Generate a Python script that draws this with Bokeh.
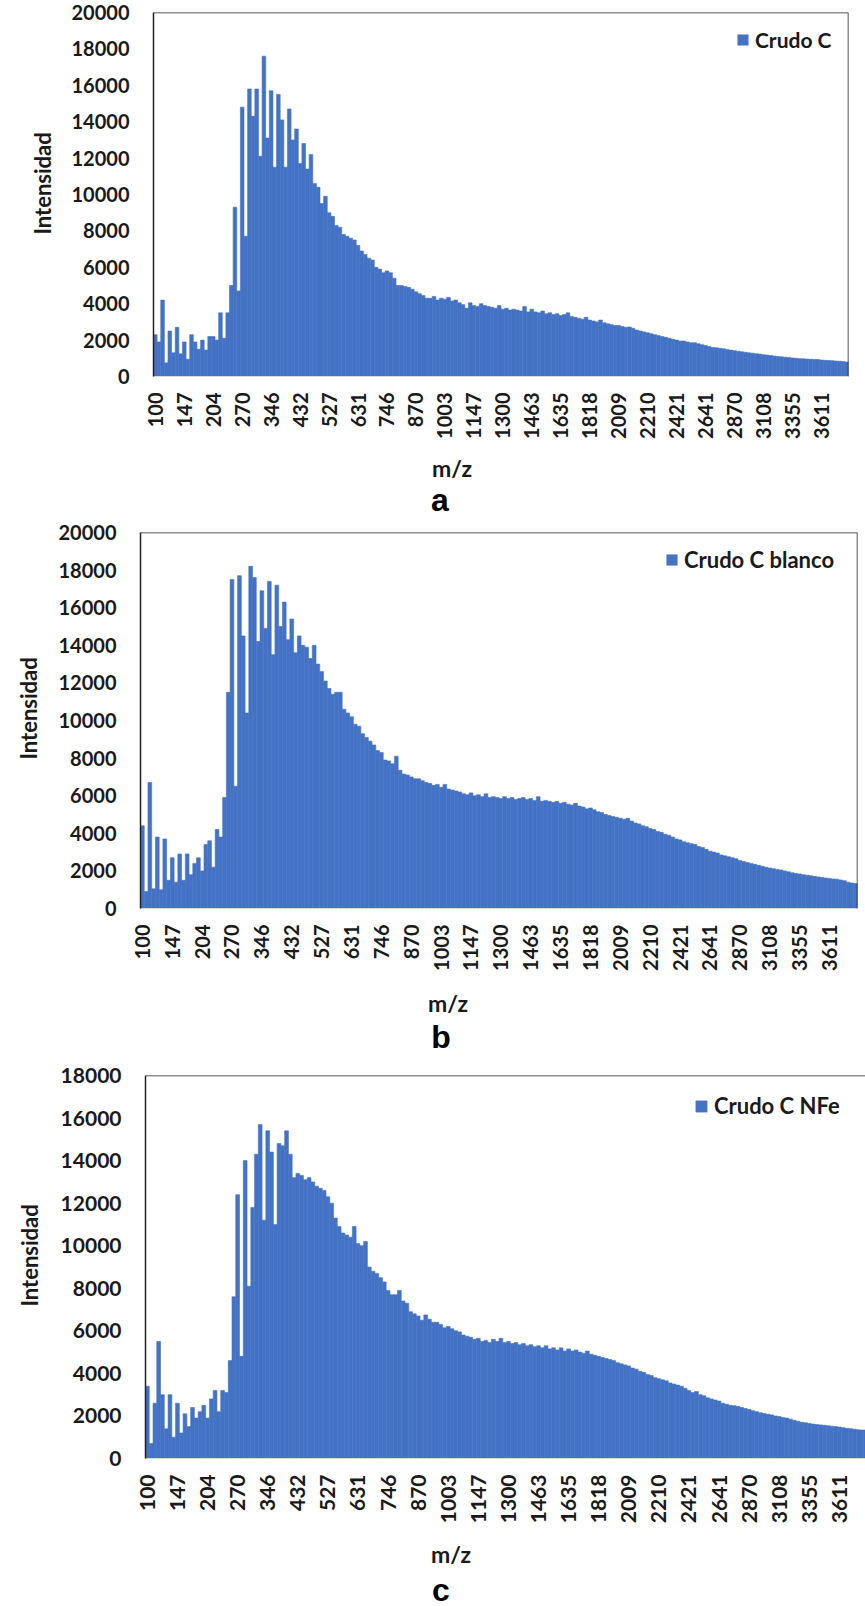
import numpy as np
from bokeh.plotting import figure
from bokeh.models import (Range1d, FixedTicker, Span, Title, Legend, LegendItem,
                          ColumnDataSource, Div)
from bokeh.layouts import column
from bokeh.embed import file_html
from bokeh.resources import INLINE

# ---------------- data ----------------
mz_labels = ["100", "147", "204", "270", "346", "432", "527", "631", "746", "870",
             "1003", "1147", "1300", "1463", "1635", "1818", "2009", "2210", "2421",
             "2641", "2870", "3108", "3355", "3611"]
label_step = 8  # one m/z label every 8 bars

crudo_c = [
    2300, 1900, 4200, 750, 2500, 1300, 2700, 1250, 1900, 950,
    2300, 1900, 1500, 2000, 1450, 2200, 2200, 2000, 3500, 2100,
    3500, 5000, 9300, 4700, 14800, 7700, 15800, 14300, 15800, 12100,
    17600, 13100, 15700, 11500, 15500, 14100, 11500, 14700, 13000, 13600,
    11700, 12800, 11400, 12200, 10600, 10400, 9500, 9900, 9000, 8800,
    8300, 8200, 7800, 7700, 7600, 7500, 7200, 6900, 6700, 6500,
    6400, 6000, 5900, 5700, 5800, 5700, 5400, 5000, 5000, 4950,
    4900, 4800, 4650, 4550, 4450, 4300, 4300, 4400, 4200,
    4300, 4250, 4350, 4150, 4200, 4050, 3950, 3750, 4050, 3900,
    3850, 4000, 3900, 3850, 3800, 3750, 3900, 3700, 3750, 3650, 3700,
    3650, 3600, 3850, 3550, 3700, 3550, 3500, 3600, 3450, 3500, 3400,
    3450, 3350, 3400, 3500, 3300, 3250, 3200, 3150, 3250, 3100, 3050,
    3000, 3100, 2950, 2900, 2850, 2800, 2800, 2750, 2700, 2720, 2650,
    2550, 2500, 2450, 2400, 2350, 2300, 2250, 2200, 2150, 2100, 2050,
    2000, 1950, 1950, 1900, 1850, 1850, 1800, 1750, 1700, 1650, 1600,
    1580, 1550, 1520, 1480, 1450, 1420, 1390, 1360, 1330, 1300, 1280,
    1250, 1230, 1200, 1180, 1150, 1120, 1100, 1080, 1060, 1040, 1020,
    1000, 980, 970, 960, 950, 940, 930, 910, 890, 880, 870, 850, 840, 820, 800,
]

crudo_c_blanco = [
    4400, 900, 6700, 1050, 3800, 1000, 3700, 1500, 2700, 1400,
    2900, 1500, 2900, 1800, 2400, 2700, 2000, 3400, 3600, 2200,
    4200, 3800, 5900, 11500, 17500, 6500, 17700, 14500, 10400, 18200,
    17600, 14200, 16900, 14900, 17400, 13500, 17200, 15000, 16300, 14300,
    15400, 13600, 14500, 14000, 13900, 13300, 14000, 13000, 12600, 12100,
    11700, 11400, 11500, 11500, 10600, 10400, 10200, 9800, 9700, 9300,
    9100, 8900, 8700, 8400, 8300, 7900, 7850, 7700, 8100, 7350,
    7150, 7100, 7000, 6900, 6900, 6800, 6700, 6650, 6550, 6600,
    6450, 6600, 6350, 6300, 6250, 6200, 6100, 6050, 6150, 6000, 6050,
    5950, 6100, 5900, 5950, 5900, 5850, 5950, 5850, 5900, 5800, 5850,
    5900, 5800, 5850, 5750, 5950, 5700, 5750, 5700, 5650, 5700, 5600,
    5650, 5550, 5500, 5600, 5450, 5400, 5300, 5350, 5250, 5150, 5100,
    5000, 4950, 4900, 4850, 4800, 4750, 4800, 4650, 4550, 4500, 4400,
    4350, 4250, 4200, 4100, 4050, 3950, 3900, 3800, 3700, 3650, 3550,
    3500, 3450, 3400, 3300, 3250, 3150, 3050, 3000, 2950, 2850, 2800,
    2750, 2700, 2650, 2550, 2500, 2450, 2400, 2350, 2300, 2250, 2200,
    2150, 2120, 2080, 2050, 2000, 1950, 1900, 1860, 1840, 1800, 1770,
    1740, 1710, 1680, 1650, 1620, 1600, 1570, 1560, 1520, 1480, 1400, 1350, 1330,
]

crudo_c_nfe = [
    3400, 700, 2600, 5500, 3000, 1400, 3000, 1000, 2600, 1200,
    2100, 1500, 2400, 1900, 2200, 2500, 1900, 2800, 3200, 2200,
    3200, 3100, 4600, 7600, 12400, 4800, 14000, 8100, 11800, 14300,
    15700, 11200, 15400, 14400, 11000, 14800, 14700, 15400, 14300, 13200,
    13400, 13300, 13100, 13200, 13000, 12800, 12700, 12600, 12300, 12000,
    11300, 10900, 10600, 10500, 10400, 10900, 10100, 10000, 10200, 9000,
    8800, 8700, 8500, 8300, 7900, 7700, 7700, 7900, 7400, 7300,
    6900, 6800, 6700, 6500, 6750, 6550, 6400, 6400, 6300, 6150,
    6200, 6100, 6000, 5950, 5800, 5750, 5700, 5600, 5650, 5500, 5550,
    5450, 5600, 5500, 5650, 5450, 5500, 5400, 5450, 5350, 5400, 5300,
    5350, 5250, 5300, 5200, 5300, 5150, 5200, 5100, 5200, 5050, 5150,
    5050, 5100, 5000, 4950, 5050, 4900, 4850, 4800, 4750, 4700, 4650,
    4600, 4500, 4450, 4400, 4350, 4250, 4200, 4100, 4050, 3950, 3900,
    3800, 3750, 3700, 3650, 3550, 3500, 3450, 3400, 3300, 3200, 3100,
    3150, 3000, 2950, 2850, 2800, 2750, 2700, 2600, 2550, 2500, 2480,
    2450, 2400, 2350, 2300, 2250, 2200, 2150, 2120, 2080, 2050, 2000,
    1970, 1930, 1900, 1850, 1800, 1750, 1700, 1680, 1650, 1620, 1600,
    1580, 1560, 1540, 1520, 1500, 1480, 1450, 1420, 1400, 1380, 1350, 1340, 1340,
]

series_names = ["Crudo C", "Crudo C blanco", "Crudo C NFe"]
panel_letters = ["a", "b", "c"]
y_max = [20000, 20000, 18000]

# ---------------- styling ----------------
BLUE = "#4472C4"
TXT = "#1a1a1a"
BORDER = "#222222"
FONT = "Lato"


def make_panel(values, name, ymax, fig_h, ml, mr, mt, mb, x_end, right_border,
               fs, leg_fs, glyph, legend_xy, ylab_offset, ylab_standoff):
    n = len(values)
    src = ColumnDataSource(dict(idx=list(range(n)), val=values))
    p = figure(width=865, height=fig_h,
               x_range=Range1d(-0.5, x_end), y_range=Range1d(0, ymax),
               output_backend="svg", toolbar_location=None,
               min_border_left=ml, min_border_right=mr,
               min_border_top=mt, min_border_bottom=mb)
    if hasattr(p, "frame_align"):
        p.frame_align = False
    p.outline_line_color = None
    p.xgrid.visible = False
    p.ygrid.visible = False
    p.background_fill_color = "white"
    p.border_fill_color = "white"

    r = p.vbar(x="idx", top="val", width=1.0, source=src,
               fill_color=BLUE, line_color=BLUE, line_width=0.6)

    # x axis: category index, every 8th labelled with its m/z value
    ticks = [i * label_step for i in range(len(mz_labels))]
    p.xaxis.ticker = FixedTicker(ticks=ticks, minor_ticks=[])
    p.xaxis.major_label_overrides = {t: lab for t, lab in zip(ticks, mz_labels)}
    p.xaxis.major_label_orientation = np.pi / 2
    p.xaxis.major_tick_line_color = None
    p.xaxis.minor_tick_line_color = None
    p.xaxis.major_tick_out = 0
    p.xaxis.major_tick_in = 0
    p.xaxis.major_label_standoff = 16
    p.xaxis.axis_line_color = "#d9d9d9"
    p.xaxis.axis_line_width = 1
    p.xaxis.major_label_text_font = FONT
    p.xaxis.major_label_text_font_style = "bold"
    p.xaxis.major_label_text_font_size = f"{fs}px"
    p.xaxis.major_label_text_color = TXT

    # y axis
    p.yaxis.ticker = FixedTicker(ticks=list(range(0, ymax + 1, 2000)), minor_ticks=[])
    p.yaxis.major_tick_line_color = None
    p.yaxis.minor_tick_line_color = None
    p.yaxis.major_tick_out = 0
    p.yaxis.major_tick_in = 0
    p.yaxis.major_label_standoff = 24
    p.yaxis.axis_line_color = BORDER
    p.yaxis.axis_line_width = 1.5
    p.yaxis.major_label_text_font = FONT
    p.yaxis.major_label_text_font_style = "bold"
    p.yaxis.major_label_text_font_size = f"{fs}px"
    p.yaxis.major_label_text_color = TXT

    # y-axis title
    p.add_layout(Title(text="Intensidad", align="left", offset=ylab_offset,
                       vertical_align="middle", standoff=ylab_standoff,
                       text_font=FONT, text_font_style="bold",
                       text_font_size="22px", text_color=TXT), "left")

    # plot-area border (top / right)
    p.add_layout(Span(location=ymax, dimension="width", line_color=BORDER, line_width=1.5))
    if right_border:
        p.add_layout(Span(location=x_end, dimension="height", line_color=BORDER, line_width=1.5))

    # legend
    leg = Legend(items=[LegendItem(label=name, renderers=[r])], location=legend_xy,
                 border_line_color=None, background_fill_alpha=0, padding=0, margin=0,
                 spacing=0, glyph_width=glyph, glyph_height=glyph, label_height=glyph,
                 label_standoff=6, label_text_font=FONT, label_text_font_style="bold",
                 label_text_font_size=f"{leg_fs}px", label_text_color=TXT,
                 label_text_baseline="middle")
    p.add_layout(leg)
    return p


def caption(height, mz_x, mz_top, letter, let_x, let_top, mz_fs):
    html = (
        f'<div style="position:relative;width:865px;height:{height}px;margin:0;padding:0;">'
        f'<span style="position:absolute;left:{mz_x}px;top:{mz_top}px;'
        f'transform:translateX(-50%);white-space:nowrap;font-family:Lato;font-weight:bold;'
        f'font-size:{mz_fs}px;line-height:{mz_fs}px;color:{TXT};">m/z</span>'
        f'<span style="position:absolute;left:{let_x}px;top:{let_top}px;'
        f'transform:translateX(-50%);white-space:nowrap;font-family:\'Liberation Sans\';'
        f'font-weight:bold;font-size:32px;line-height:24px;color:#000;">{letter}</span>'
        f'</div>'
    )
    return Div(text=html, width=865, height=height, margin=(0, 0, 0, 0))


# panel a: frame x 153..848, y 12..376 ; figure 0..445
pa = make_panel(crudo_c, series_names[0], y_max[0], fig_h=445, ml=153, mr=17, mt=12, mb=69,
                x_end=191.5, right_border=True, fs=20, leg_fs=21, glyph=13,
                legend_xy=(583, 324), ylab_offset=142, ylab_standoff=24)
# caption a: 445..515  (m/z baseline ~477, letter baseline ~511)
ca = caption(70, 452, 477 - 445 - 20, panel_letters[0], 440, 511 - 445 - 23, 23)

# panel b: frame x 137..857, y 532..908 ; figure 515..975
pb = make_panel(crudo_c_blanco, series_names[1], y_max[1], fig_h=460, ml=137, mr=8, mt=17, mb=67,
                x_end=191.5, right_border=True, fs=20, leg_fs=22, glyph=13,
                legend_xy=(525, 335), ylab_offset=149, ylab_standoff=26)
# caption b: 975..1060
cb = caption(85, 448, 1012 - 975 - 20, panel_letters[1], 441, 1048 - 975 - 23, 23)

# panel c: frame x 134..865 (cut at the window edge), y 1075..1458 ; figure 1060..1526
pc = make_panel(crudo_c_nfe, series_names[2], y_max[2], fig_h=466, ml=134, mr=0, mt=15, mb=68,
                x_end=190.95, right_border=False, fs=21, leg_fs=22, glyph=14,
                legend_xy=(549, 339), ylab_offset=152, ylab_standoff=28)
# caption c: 1526..1606
cc = caption(80, 451, 1563 - 1526 - 20, panel_letters[2], 441, 1601 - 1526 - 23, 23)

layout = column(pa, ca, pb, cb, pc, cc, spacing=0)
open("out.html", "w").write(file_html(layout, INLINE))
